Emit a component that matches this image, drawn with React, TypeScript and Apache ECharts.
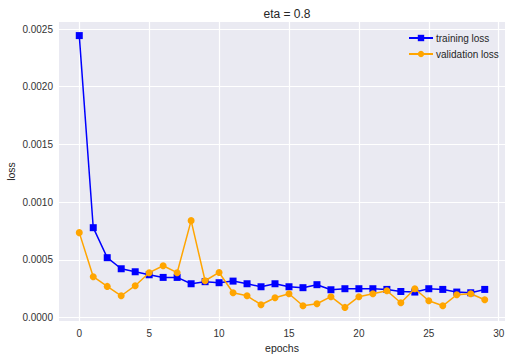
import React, { useEffect, useRef } from "react";
import * as echarts from "echarts";

const epochs = Array.from({ length: 30 }, (_, i) => i);
const trainingLoss = [
  0.002443, 0.000778, 0.000518, 0.000422, 0.000396, 0.00037, 0.000347, 0.000347, 0.000292, 0.00031,
  0.000301, 0.000315, 0.000292, 0.000266, 0.000292, 0.000266, 0.000258, 0.000284, 0.00024, 0.000249,
  0.000249, 0.000249, 0.000243, 0.000225, 0.00022, 0.000249, 0.000243, 0.00022, 0.000214, 0.000243,
];
const validationLoss = [
  0.000735, 0.000353, 0.000269, 0.000188, 0.000275, 0.000388, 0.000448, 0.000388, 0.000839, 0.000318,
  0.00039, 0.000214, 0.000188, 0.00011, 0.000171, 0.000205, 0.000101, 0.000119, 0.00018, 0.000087,
  0.00018, 0.000205, 0.000231, 0.000127, 0.000249, 0.000145, 0.000101, 0.000197, 0.000205, 0.000153,
];
const xTicks = [0, 5, 10, 15, 20, 25, 30];
const yTicks = [0, 0.0005, 0.001, 0.0015, 0.002, 0.0025];

export default function App() {
  const ref = useRef<HTMLDivElement>(null);
  useEffect(() => {
    if (!ref.current) return;
    const chart = echarts.init(ref.current, undefined, { renderer: "svg" });
    const allY = [...trainingLoss, ...validationLoss];
    const yMinD = Math.min(...allY);
    const yMaxD = Math.max(...allY);
    const yr = yMaxD - yMinD;
    const xr = epochs[epochs.length - 1] - epochs[0];
    const font = "'Liberation Sans', Arial, sans-serif";
    chart.setOption({
      animation: false,
      backgroundColor: "#ffffff",
      textStyle: { fontFamily: font },
      title: {
        text: "eta = 0.8",
        left: 282,
        top: 3,
        textAlign: "center",
        textStyle: { fontSize: 12, fontWeight: "normal", color: "#262626", fontFamily: font },
      },
      legend: {
        orient: "vertical",
        left: 403,
        top: 28,
        itemWidth: 24,
        itemHeight: 8,
        itemGap: 6,
        textStyle: { fontSize: 10, color: "#262626", fontFamily: font, padding: [0, 0, 0, -2] },
        data: ["training loss", "validation loss"],
      },
      grid: {
        left: 59,
        right: 7,
        top: 22,
        bottom: 38,
        show: true,
        backgroundColor: "#EAEAF2",
        borderWidth: 0,
        containLabel: false,
        outerBoundsMode: "none",
      },
      xAxis: {
        type: "value",
        min: epochs[0] - 0.05 * xr,
        max: epochs[epochs.length - 1] + 0.05 * xr,
        name: "epochs",
        nameLocation: "middle",
        nameGap: 21,
        nameMoveOverlap: false,
        nameTextStyle: { fontSize: 10.5, color: "#262626", fontFamily: font },
        axisLine: { show: false },
        axisTick: { show: false, customValues: xTicks },
        axisLabel: { customValues: xTicks, fontSize: 10, color: "#333", margin: 7, fontFamily: font },
        splitLine: { show: true, customValues: xTicks, lineStyle: { color: "#ffffff", width: 1.2 } },
      },
      yAxis: {
        type: "value",
        min: yMinD - 0.05 * yr,
        max: yMaxD + 0.05 * yr,
        name: "loss",
        nameLocation: "middle",
        nameGap: 43,
        nameMoveOverlap: false,
        nameTextStyle: { fontSize: 10.5, color: "#262626", fontFamily: font },
        axisLine: { show: false },
        axisTick: { show: false, customValues: yTicks },
        axisLabel: {
          customValues: yTicks,
          fontSize: 10,
          color: "#333",
          margin: 6,
          fontFamily: font,
          formatter: (v: number) => v.toFixed(4),
        },
        splitLine: { show: true, customValues: yTicks, lineStyle: { color: "#ffffff", width: 1.2 } },
      },
      series: [
        {
          name: "training loss",
          type: "line",
          data: epochs.map((e, i) => [e, trainingLoss[i]]),
          symbol: "rect",
          symbolSize: 7,
          lineStyle: { color: "#0000ff", width: 1.5 },
          itemStyle: { color: "#0000ff" },
          z: 3,
        },
        {
          name: "validation loss",
          type: "line",
          data: epochs.map((e, i) => [e, validationLoss[i]]),
          symbol: "circle",
          symbolSize: 7,
          lineStyle: { color: "#FFA500", width: 1.5 },
          itemStyle: { color: "#FFA500" },
          z: 4,
        },
      ],
    });
    return () => chart.dispose();
  }, []);
  return <div ref={ref} style={{ width: 512, height: 359, position: "absolute", left: 0, top: 0 }} />;
}
